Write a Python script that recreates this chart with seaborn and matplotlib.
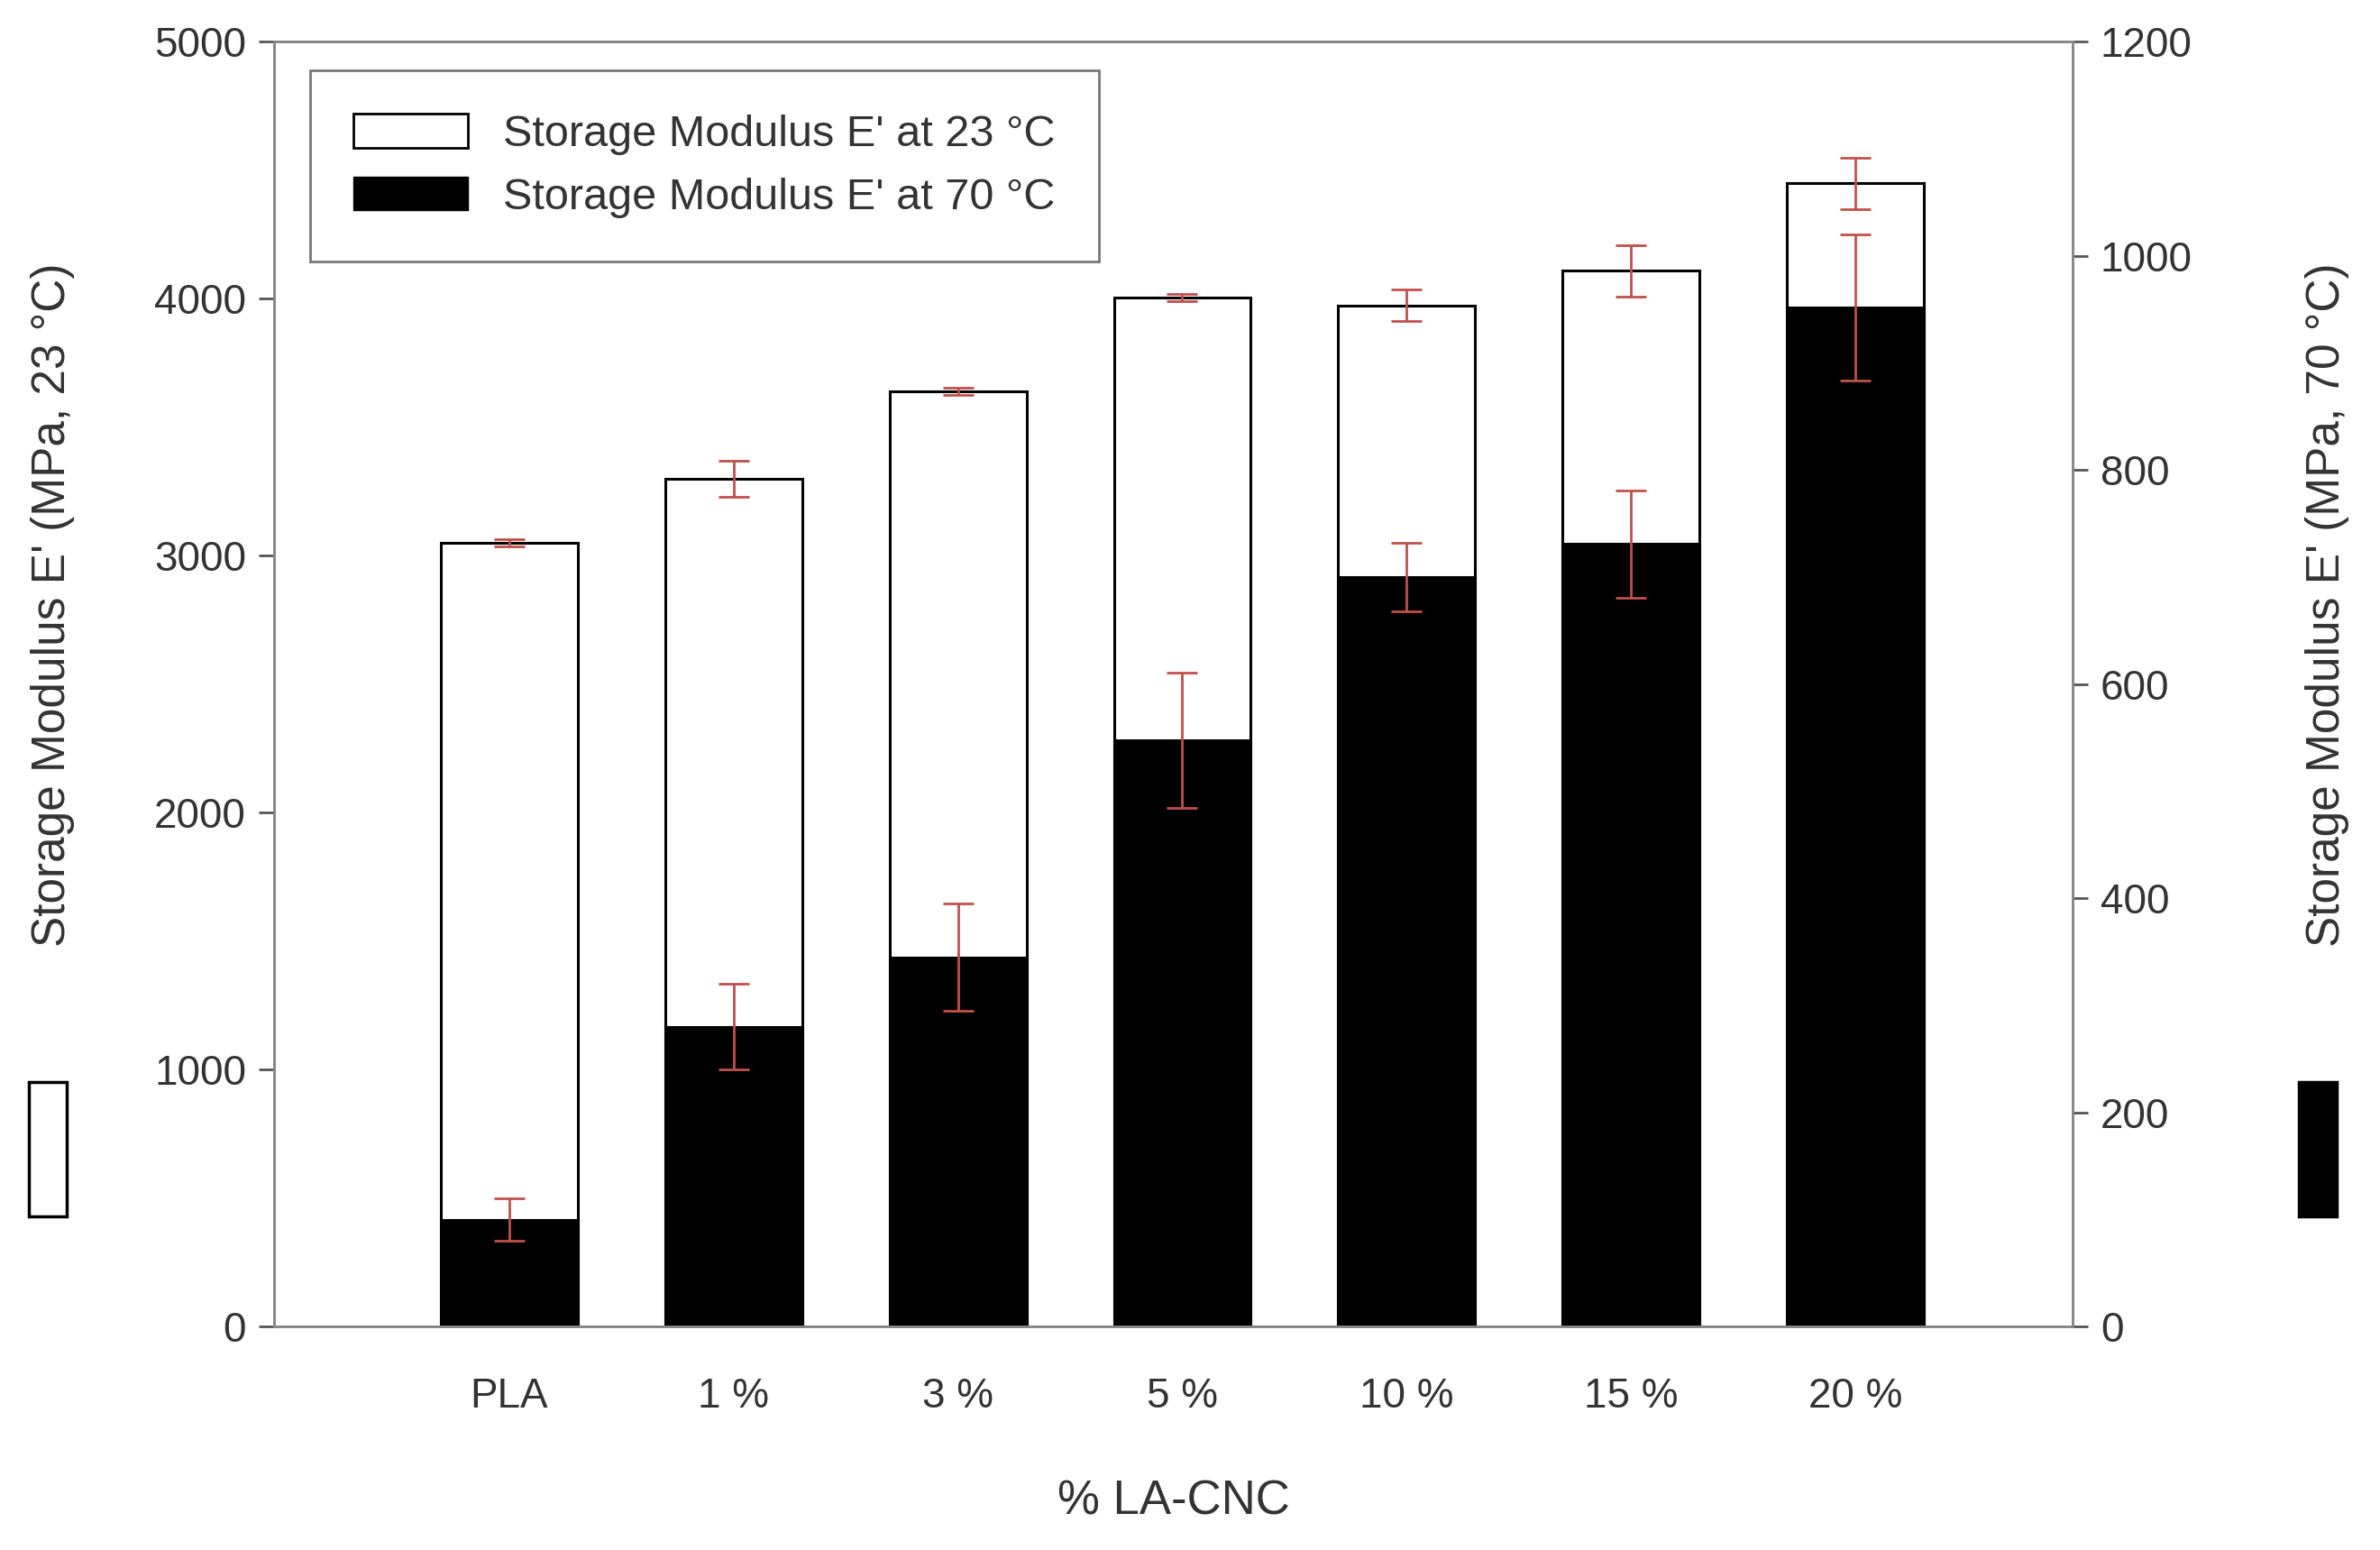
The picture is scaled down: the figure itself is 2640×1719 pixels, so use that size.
import matplotlib
matplotlib.use("Agg")
import matplotlib.pyplot as plt
import matplotlib.patches as mpatches
import numpy as np
import pandas as pd
import seaborn as sns

# Data
categories = ["PLA", "1 %", "3 %", "5 %", "10 %", "15 %", "20 %"]
e23 = [3050, 3300, 3640, 4005, 3975, 4110, 4450]
e23_err = [15, 70, 15, 15, 60, 100, 100]
e70 = [100, 280, 345, 548, 700, 731, 952]
e70_err = [20, 40, 50, 63, 32, 50, 68]

sns.set_style("ticks")
plt.rcParams["font.family"] = ["Liberation Sans", "DejaVu Sans"]

df = pd.DataFrame({"cat": categories, "e23": e23, "e70": e70})

fig = plt.figure(figsize=(26.4, 17.19), dpi=100)
ax = fig.add_axes([0.115, 0.144, 0.756, 0.829])
ax2 = ax.twinx()

w = 0.61
sns.barplot(data=df, x="cat", y="e23", ax=ax, color="white", edgecolor="black",
            linewidth=2.2, width=w, saturation=1)
sns.barplot(data=df, x="cat", y="e70", ax=ax2, color="black", edgecolor="black",
            linewidth=2.2, width=w, saturation=1)

x = np.arange(len(categories))
ecol = "#c0504d"
ax.errorbar(x, e23, yerr=e23_err, fmt="none", ecolor=ecol, elinewidth=2, capsize=12, capthick=2)
ax2.errorbar(x, e70, yerr=e70_err, fmt="none", ecolor=ecol, elinewidth=2, capsize=12, capthick=2)

ax.set_xlim(-1.05, 6.97)
ax.set_ylim(0, 5000)
ax2.set_ylim(0, 1200)
ax.set_yticks(range(0, 5001, 1000))
ax2.set_yticks(range(0, 1201, 200))
ax.set_xlabel("% LA-CNC", fontsize=38, labelpad=50, color="#333333")
ax.set_ylabel("")
ax2.set_ylabel("")
for a in (ax, ax2):
    a.tick_params(labelsize=33, length=12, width=2, colors="#555555", labelcolor="#333333", pad=10)
    for s in a.spines.values():
        s.set_color("#888888")
        s.set_linewidth(2)
ax.tick_params(axis="x", length=0, pad=40)

# y-axis labels with their swatches
fig.text(0.022, 0.61, "Storage Modulus E' (MPa, 23 °C)", rotation=90, fontsize=37,
         ha="center", va="center", color="#333333")
fig.text(0.978, 0.61, "Storage Modulus E' (MPa, 70 °C)", rotation=90, fontsize=37,
         ha="center", va="center", color="#333333")
fig.patches.append(mpatches.Rectangle((0.012, 0.215), 0.016, 0.087, transform=fig.transFigure,
                                      facecolor="white", edgecolor="black", linewidth=2.5))
fig.patches.append(mpatches.Rectangle((0.966, 0.215), 0.016, 0.087, transform=fig.transFigure,
                                      facecolor="black", edgecolor="black", linewidth=2.5))

handles = [mpatches.Patch(facecolor="white", edgecolor="black", linewidth=2),
           mpatches.Patch(facecolor="black", edgecolor="black")]
leg = ax.legend(handles, ["Storage Modulus E' at 23 °C", "Storage Modulus E' at 70 °C"],
                loc="upper left", bbox_to_anchor=(0.008, 0.995), fontsize=35, fancybox=False,
                handlelength=2.6, handleheight=0.8, borderpad=1.0, labelspacing=0.5)
leg.get_frame().set_edgecolor("#555555")
leg.get_frame().set_linewidth(2)
for t in leg.get_texts():
    t.set_color("#333333")

fig.savefig("out.png", dpi=100)
